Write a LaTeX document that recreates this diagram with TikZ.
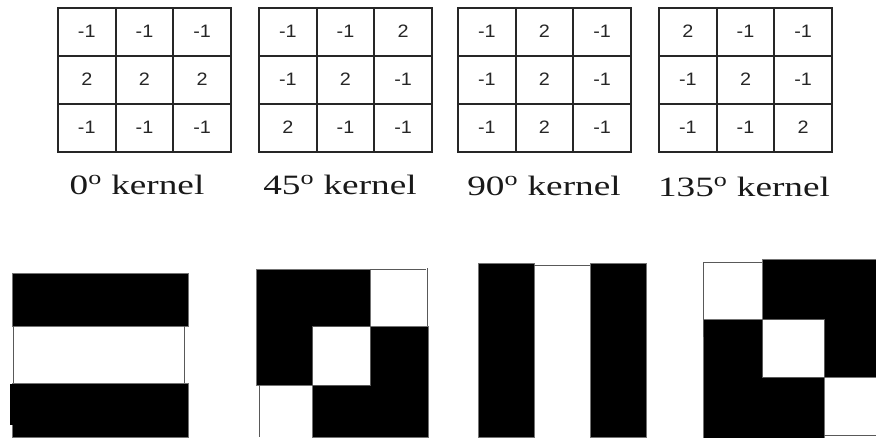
\documentclass[tikz,border=0pt]{standalone}
\usepackage{fontspec}
\setmainfont{Liberation Serif}
\newfontfamily\kfont{Liberation Sans}
\begin{document}
\begin{tikzpicture}[x=1pt,y=-1pt,
  kline/.style={line width=1.9pt, black!85},
  knum/.style={font=\kfont\fontsize{18}{18}\selectfont, inner sep=0pt, anchor=center, text=black!85},
  klabel/.style={font=\fontsize{28}{28}\selectfont, inner sep=0pt, anchor=base, text=black!90},
  blk/.style={fill=black, draw=black!55, line width=0.8pt},
  wbox/.style={draw=black!65, line width=1pt}]
\useasboundingbox (0,0) rectangle (876,437);
\fill[white] (0,0) rectangle (876,437);
% kernels
\foreach \kx/\vals [count=\k] in {58/{-1,-1,-1,2,2,2,-1,-1,-1}, 259/{-1,-1,2,-1,2,-1,2,-1,-1}, 458/{-1,2,-1,-1,2,-1,-1,2,-1}, 659/{2,-1,-1,-1,2,-1,-1,-1,2}} {
  \draw[kline] (\kx,8) rectangle ++(173,144);
  \draw[kline] (\kx+57.7,8) -- ++(0,144) (\kx+115.3,8) -- ++(0,144) (\kx,56) -- ++(173,0) (\kx,104) -- ++(173,0);
  \foreach \v [count=\i from 0] in \vals {
    \pgfmathtruncatemacro\c{mod(\i,3)}
    \pgfmathtruncatemacro\r{div(\i,3)}
    \node[knum] (k\k-\i) at (\kx+28.8+57.7*\c, 31+48*\r) {\scalebox{1.1}[1]{\v}};
  }
}
\node[klabel] (l1) at (137,194) {\scalebox{1.33}[1]{0\textsuperscript{o} kernel}};
\node[klabel] (l2) at (340,194) {\scalebox{1.33}[1]{45\textsuperscript{o} kernel}};
\node[klabel] (l3) at (544,195) {\scalebox{1.33}[1]{90\textsuperscript{o} kernel}};
\node[klabel] (l4) at (744,196) {\scalebox{1.33}[1]{135\textsuperscript{o} kernel}};
% image 1: horizontal stripes
\draw[blk] (12,273) rectangle (188,326);
\draw[wbox] (13,326) -- (13,383) (184,326) -- (184,383);
\draw[blk] (12,383) rectangle (188,437);
\fill[black] (10,384) rectangle (13,425);
% image 2: 45 degree pattern
\draw[blk] (256,269) -- (370,269) -- (370,326) -- (312,326) -- (312,385) -- (256,385) -- cycle;
\draw[blk] (370,326) -- (428,326) -- (428,437) -- (312,437) -- (312,385) -- (370,385) -- cycle;
\draw[wbox] (370,269) -- (426,269) (427,268) -- (427,326);
\draw[wbox] (259,385) -- (259,437);
\draw[wbox] (312,326) rectangle (370,385);
% image 3: vertical stripes
\draw[blk] (478,263) rectangle (534,437);
\draw[blk] (590,263) rectangle (646,437);
\draw[wbox] (534,265) -- (590,265);
% image 4: 135 degree pattern
\draw[blk] (762,259) -- (880,259) -- (880,377) -- (824,377) -- (824,319) -- (762,319) -- cycle;
\draw[blk] (703,319) -- (762,319) -- (762,377) -- (824,377) -- (824,440) -- (703,440) -- cycle;
\draw[wbox] (703,337) -- (703,262) -- (762,262);
\draw[wbox] (762,319) rectangle (824,377);
\draw[wbox] (824,435) -- (880,435);
\end{tikzpicture}
\end{document}
